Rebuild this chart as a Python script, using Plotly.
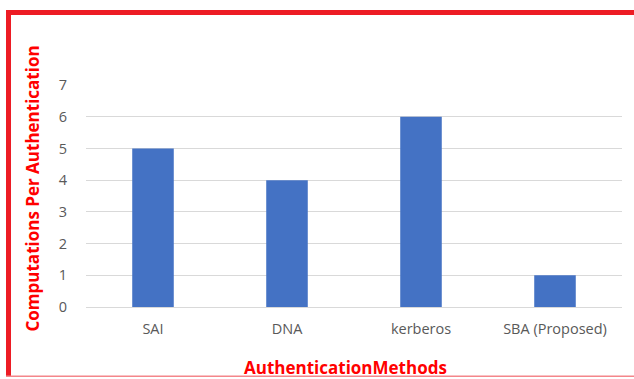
import plotly.graph_objects as go

categories = ["SAI", "DNA", "kerberos", "SBA (Proposed)"]
values = [5, 4, 6, 1]
y_ticks = [0, 1, 2, 3, 4, 5, 6, 7]
x_title = "AuthenticationMethods"
y_title = "Computations Per Authentication"

W, H = 634, 379
L, R, T, B = 86, 12, 85, 72
pw, ph = W - L - R, H - T - B

def px(x):
    return (x - L) / pw

def py(y):
    return (H - B - y) / ph

fig = go.Figure(go.Bar(x=categories, y=values, marker=dict(color="#4472C4", line=dict(width=0)),
                       hoverinfo="skip"))

red = "#ED1C24"
shapes = [
    dict(type="rect", xref="paper", yref="paper", x0=px(6), x1=px(640), y0=py(15), y1=py(10),
         fillcolor=red, line=dict(width=0), layer="above"),
    dict(type="rect", xref="paper", yref="paper", x0=px(6), x1=px(11), y0=py(376), y1=py(10),
         fillcolor=red, line=dict(width=0), layer="above"),
    dict(type="rect", xref="paper", yref="paper", x0=px(6), x1=px(640), y0=py(377), y1=py(375.5),
         fillcolor="#F4868A", line=dict(width=0), layer="above"),
]

title_font = dict(family="Open Sans, Liberation Sans, sans-serif", size=17, color="#FF0000", weight="bold")
annotations = [
    dict(text=x_title, xref="paper", yref="paper", x=px(345), y=py(367), xanchor="center", yanchor="middle",
         showarrow=False, font=title_font),
    dict(text=y_title, xref="paper", yref="paper", x=px(32), y=py(188.5), xanchor="center", yanchor="middle",
         textangle=-90, showarrow=False, font=title_font),
]

fig.update_layout(
    width=W, height=H,
    margin=dict(l=L, r=R, t=T, b=B),
    paper_bgcolor="white", plot_bgcolor="white",
    bargap=0.69,
    showlegend=False,
    shapes=shapes,
    annotations=annotations,
    font=dict(family="Open Sans, DejaVu Sans, sans-serif", color="#595959", size=12),
    xaxis=dict(showgrid=False, showline=True, linecolor="#D9D9D9", linewidth=1,
               ticks="outside", ticklen=9, tickcolor="rgba(0,0,0,0)",
               tickfont=dict(size=14.5, color="#595959")),
    yaxis=dict(range=[0, 7], tickvals=y_ticks, showgrid=True, gridcolor="#D9D9D9", gridwidth=1,
               zeroline=False, showline=False,
               ticks="outside", ticklen=15, tickcolor="rgba(0,0,0,0)",
               tickfont=dict(size=14.5, color="#595959")),
)

fig.write_html("out.html")
